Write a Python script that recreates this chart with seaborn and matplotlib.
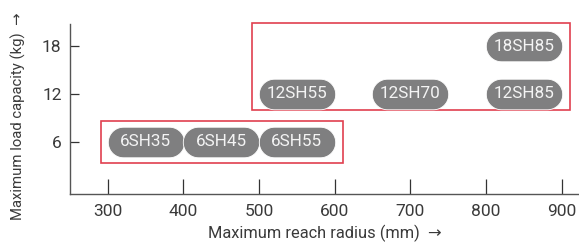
import numpy as np
import pandas as pd
import matplotlib
matplotlib.use("Agg")
import matplotlib.pyplot as plt
from matplotlib.path import Path
from matplotlib.patches import Rectangle
import seaborn as sns

# Dados: modelos, alcance maximo (mm) e carga maxima (kg)
modelos = ["6SH35", "6SH45", "6SH55", "12SH55", "12SH70", "12SH85", "18SH85"]
alcance = [350, 450, 550, 550, 700, 850, 850]
carga = [6, 6, 6, 12, 12, 12, 18]

x_ticks = [300, 400, 500, 600, 700, 800, 900]
y_ticks = [6, 12, 18]

df = pd.DataFrame({"Modelo": modelos, "Alcance": alcance, "Carga": carga})

sns.set_theme(style="ticks")
plt.rcParams["font.family"] = ["Roboto", "DejaVu Sans"]

cor_txt = "#3a3a3a"
cor_pill = "#7f7f80"
cor_red = "#e0404f"

# marcador em forma de "pilula" (largura 2.5x altura)
t = np.linspace(-np.pi / 2, np.pi / 2, 30)
direita = np.column_stack([0.75 + 0.5 * np.cos(t), 0.5 * np.sin(t)])
esquerda = np.column_stack([-0.75 - 0.5 * np.cos(t), -0.5 * np.sin(t)])
verts = np.vstack([direita, esquerda, direita[:1]])
pilula = Path(verts, closed=True)

fig = plt.figure(figsize=(5.79, 2.45), dpi=100)
ax = fig.add_axes([70 / 579, 51 / 245, 509 / 579, 170 / 245])

sns.scatterplot(data=df, x="Alcance", y="Carga", marker=pilula, s=55 ** 2,
                color=cor_pill, edgecolor="white", linewidth=0.6, ax=ax,
                legend=False, zorder=3, clip_on=False)
for _, row in df.iterrows():
    ax.text(row["Alcance"], row["Carga"], row["Modelo"], ha="center", va="center",
            color="#f4f4f4", fontsize=12.3, zorder=4)

# caixas vermelhas de agrupamento
ax.add_patch(Rectangle((291, 3.27), 320, 5.38, fill=False, ec=cor_red, lw=1.2, clip_on=False))
ax.add_patch(Rectangle((491, 9.96), 420, 11.0, fill=False, ec=cor_red, lw=1.2, clip_on=False))

ax.set_xlim(250, 923)
ax.set_ylim(-0.6, 20.8)
ax.set_xticks(x_ticks)
ax.set_yticks(y_ticks)
ax.tick_params(axis="x", direction="in", length=10.8, width=0.9, color="#333333",
               labelsize=12.5, labelcolor=cor_txt, pad=7)
ax.tick_params(axis="y", direction="in", length=6.5, width=0.9, color="#333333",
               labelsize=12.5, labelcolor=cor_txt, pad=6)
for s in ["top", "right"]:
    ax.spines[s].set_visible(False)
for s in ["left", "bottom"]:
    ax.spines[s].set_color("#555555")
    ax.spines[s].set_linewidth(1.0)

ax.set_xlabel("Maximum reach radius (mm)  \u2192", fontsize=11.8, color=cor_txt, labelpad=4)
ax.set_ylabel("Maximum load capacity (kg)  \u2192", fontsize=10.7, color=cor_txt, labelpad=10)
ax.yaxis.set_label_coords(-0.086, 0.456)

plt.savefig("out.png", dpi=100)
